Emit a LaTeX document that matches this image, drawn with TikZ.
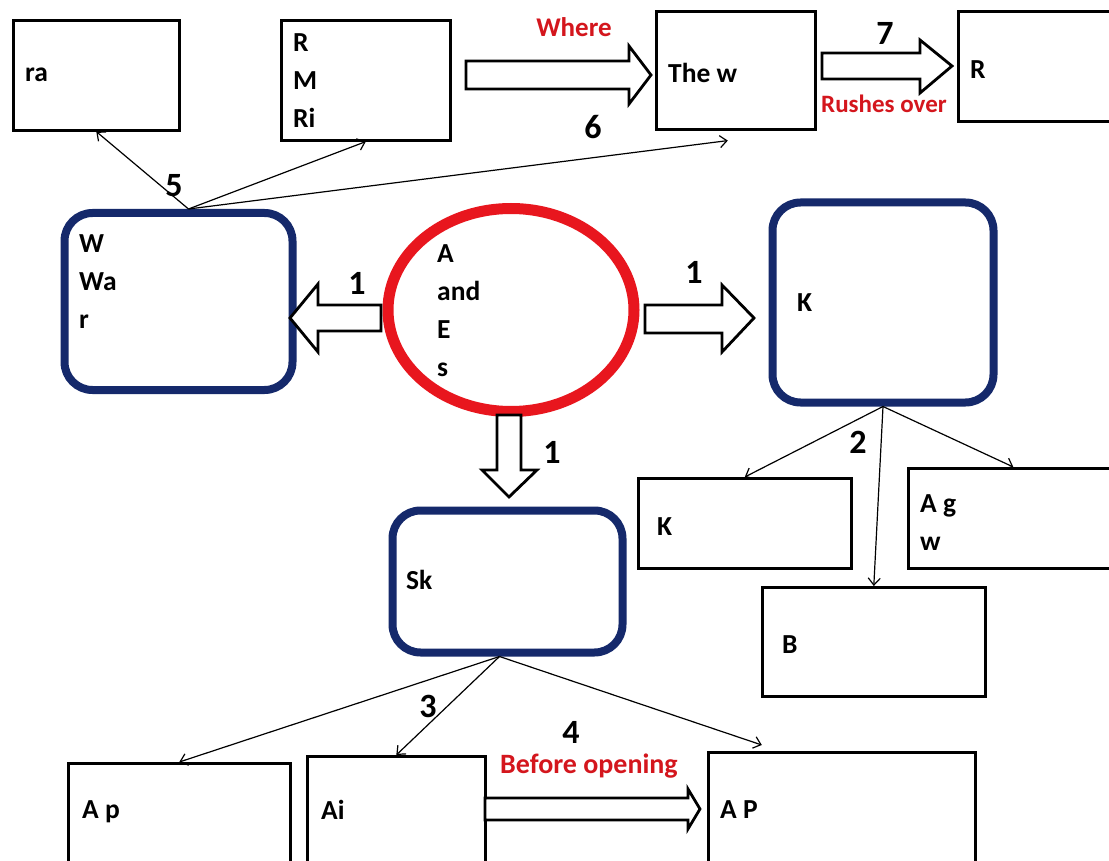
\documentclass[tikz,border=0pt]{standalone}
\usepackage{fontspec}
\setmainfont{Carlito}
\usetikzlibrary{arrows.meta,shapes.geometric}
\definecolor{navy}{HTML}{15296B}
\definecolor{ring}{HTML}{E8161E}
\definecolor{lbl}{HTML}{D4161D}
\begin{document}
\begin{tikzpicture}[x=1pt,y=-1pt,
 box/.style={draw=black,line width=2.6pt,anchor=north west,inner sep=0pt},
 rbox/.style={draw=navy,line width=8pt,rounded corners=28pt,anchor=north west,inner sep=0pt},
 txt/.style={anchor=west,align=left,inner sep=0pt,font=\fontsize{27.5}{38}\selectfont\bfseries},
 num/.style={inner sep=0pt,font=\fontsize{34}{34}\selectfont\bfseries},
 redlbl/.style={inner sep=0pt,text=lbl,font=\fontsize{#1}{#1}\selectfont\bfseries},
 thinarr/.style={draw,line width=1.2pt,-{Straight Barb[length=7pt,width=12pt]}},
 barr/.style={draw,line width=2.8pt,fill=white,line join=miter}]
\useasboundingbox (0,0) rectangle (1109,861);
\fill[white] (0,0) rectangle (1109,861);

% top row
\node[box,minimum width=166pt,minimum height=110pt] (ra) at (12,19) {};
\node[txt] (rat) at ([xshift=13pt]ra.west) {ra};
\node[box,minimum width=169pt,minimum height=120pt] (rmri) at (280,19) {};
\node[txt] (rmrit) at ([xshift=13pt]rmri.west) {R\\M\\Ri};
\node[box,minimum width=159pt,minimum height=118pt] (thew) at (655,10) {};
\node[txt] (thewt) at ([xshift=13pt,yshift=-3pt]thew.west) {The w};
\node[box,minimum width=160pt,minimum height=110pt] (rr) at (957,10) {};
\node[txt] (rrt) at ([xshift=13pt,yshift=-3pt]rr.west) {R};

% middle row
\node[rbox,minimum width=228pt,minimum height=177pt] (W) at (60.5,209) {};
\node[txt] (Wt) at (79,282) {W\\Wa\\r};
\node[ellipse,draw=ring,line width=11pt,minimum width=246pt,minimum height=203pt,inner sep=0pt] (E) at (511,310) {};
\node[txt] (Et) at (437,310.5) {A\\and\\E\\s};
\node[rbox,minimum width=221pt,minimum height=200pt] (K) at (768.5,198.5) {};
\node[txt] (Kt) at (797,303) {K};

% right lower boxes
\node[box,minimum width=213pt,minimum height=90pt] (k2) at (637,477) {};
\node[txt] (k2t) at ([xshift=20pt,yshift=-3pt]k2.west) {K};
\node[box,minimum width=210pt,minimum height=100pt] (ag) at (907,467) {};
\node[txt] (agt) at ([xshift=13pt,yshift=-4pt]ag.west) {A g\\w};
\node[box,minimum width=223pt,minimum height=109pt] (B) at (761,586) {};
\node[txt] (Bt) at ([xshift=21pt,yshift=-3pt]B.west) {B};

% Sk and bottom
\node[rbox,minimum width=230pt,minimum height=142pt] (Sk) at (388.5,506.5) {};
\node[txt] (Skt) at (406,580) {Sk};
\node[box,minimum width=222pt,minimum height=110pt] (ap) at (67,762) {};
\node[txt] (apt) at (82,812) {A p};
\node[box,minimum width=178pt,minimum height=116pt] (ai) at (306,755) {};
\node[txt] (ait) at (321,810) {Ai};
\node[box,minimum width=267pt,minimum height=120pt] (AP) at (707,751) {};
\node[txt] (APt) at (720,810) {A P};

% thin connectors
\draw[thinarr] ([xshift=10pt]W.north) -- (ra.south);
\draw[thinarr] ([xshift=10pt]W.north) -- (rmri.south);
\draw[thinarr] ([xshift=10pt]W.north) -- ([xshift=-8pt,yshift=-10pt]thew.south);
\draw[thinarr] (K.south) -- (k2.north);
\draw[thinarr] (K.south) -- (B.north);
\draw[thinarr] (K.south) -- (ag.north);
\draw[thinarr] ([xshift=-8pt]Sk.south) -- (ap.north);
\draw[thinarr] ([xshift=-8pt]Sk.south) -- (ai.north);
\draw[thinarr] ([xshift=-8pt]Sk.south) -- ([xshift=-80pt,yshift=6pt]AP.north);

% block arrows
\draw[barr] (466,61) -- (629,61) -- (629,46) -- (651,75) -- (629,104) -- (629,89) -- (466,89) -- cycle;
\draw[barr] (822,53) -- (920,53) -- (920,40) -- (952,66) -- (920,93) -- (920,79) -- (822,79) -- cycle;
\draw[barr] (381,305) -- (318,305) -- (318,284) -- (290,318) -- (318,352) -- (318,331) -- (381,331) -- cycle;
\draw[barr] (645,305) -- (722,305) -- (722,285) -- (754,318) -- (722,352) -- (722,333) -- (645,333) -- cycle;
\draw[barr] (497,415) -- (497,470) -- (482,470) -- (509,497) -- (537,470) -- (521,470) -- (521,415) -- cycle;
\draw[barr] (485,798) -- (688,798) -- (688,789) -- (700,809) -- (688,829) -- (688,820) -- (485,820) -- cycle;

% labels
\node[num] (n5) at (174,186) {5};
\node[num] (n6) at (593,127) {6};
\node[num] (n7) at (885,33) {7};
\node[num] (n1a) at (357,283) {1};
\node[num] (n1b) at (694,272) {1};
\node[num] (n1c) at (552,452) {1};
\node[num] (n2) at (858,442) {2};
\node[num] (n3) at (428,706) {3};
\node[num] (n4) at (571,732) {4};
\node[redlbl=27] (where) at (574,27) {Where};
\node[redlbl=25] (rush) at (884,104) {Rushes over};
\node[redlbl=28] (before) at (589,766) {Before opening};
\end{tikzpicture}
\end{document}
